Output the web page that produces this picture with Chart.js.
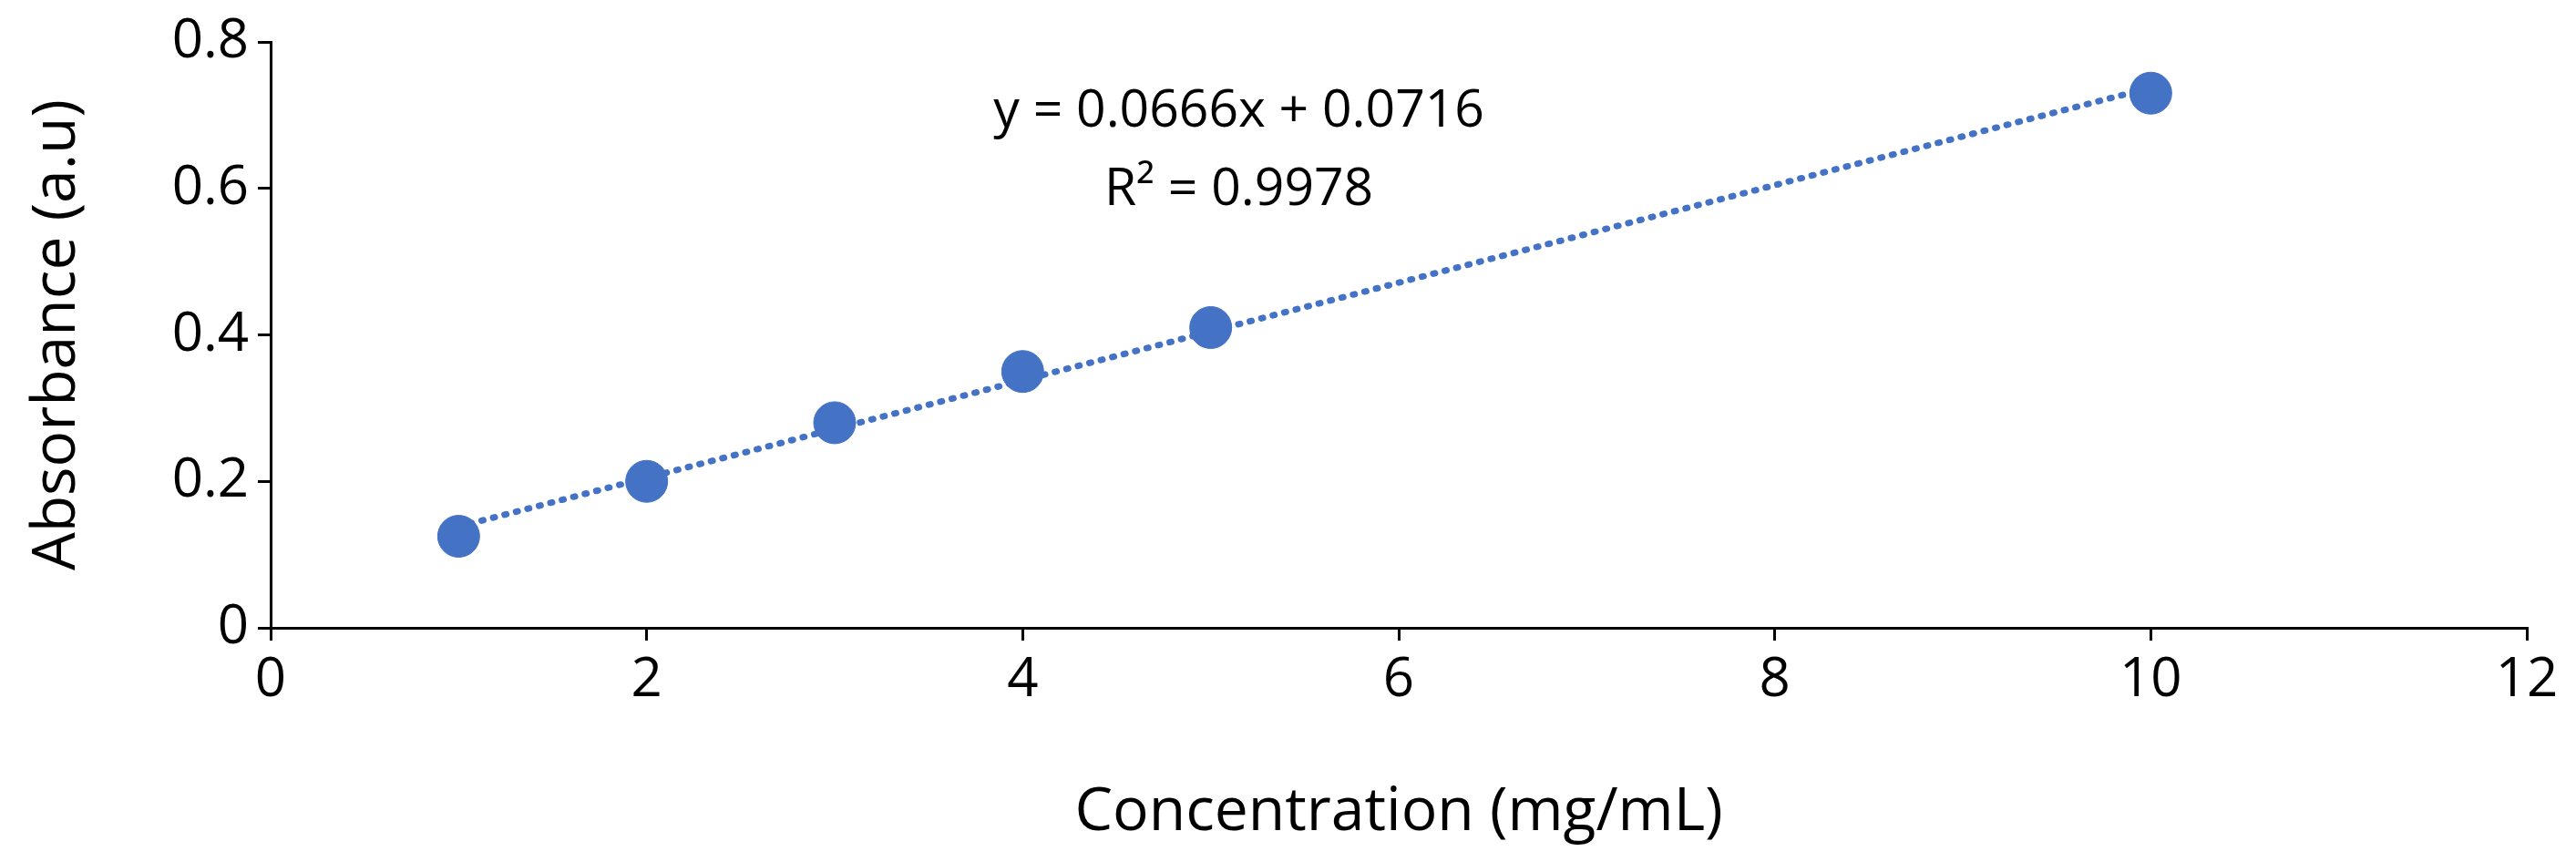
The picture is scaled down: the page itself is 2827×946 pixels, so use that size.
<!DOCTYPE html>
<html><head><meta charset="utf-8">
<script src="https://cdn.jsdelivr.net/npm/chart.js@4"></script>
<style>html,body{margin:0;padding:0;background:#fff}#w{width:2827px;height:946px}</style>
</head><body><div id="w"><canvas id="c"></canvas></div>
<script>
const concentrations = [1, 2, 3, 4, 5, 10];
const absorbance = [0.125, 0.2, 0.28, 0.35, 0.41, 0.73];
const slope = 0.0666, intercept = 0.0716;
const trendX = [1, 10];
const eqLines = ["y = 0.0666x + 0.0716", "R² = 0.9978"];
const font = "'Open Sans', 'Liberation Sans', sans-serif";
const blue = '#4472C4';
const textPlugin = {
  id: 'eq',
  afterDraw(ch) {
    const c = ch.ctx; c.save();
    c.fillStyle = '#000'; c.font = "57px " + font; c.textAlign = 'center'; c.textBaseline = 'middle';
    const x = ch.scales.x.getPixelForValue(5.15);
    c.fillText(eqLines[0], x, 123);
    c.fillText(eqLines[1], x, 209);
    c.restore();
  }
};
new Chart(document.getElementById('c'), {
  type: 'scatter',
  data: { datasets: [
    { data: trendX.map(x => ({x, y: slope * x + intercept})), showLine: true, pointRadius: 0,
      borderColor: blue, borderWidth: 7, borderDash: [2, 11], borderCapStyle: 'round' },
    { data: concentrations.map((x, i) => ({x, y: absorbance[i]})), pointRadius: 23,
      backgroundColor: blue, borderColor: blue, pointHoverRadius: 23 }
  ]},
  plugins: [textPlugin],
  options: {
    responsive: true, maintainAspectRatio: false, animation: false,
    layout: { padding: { top: 30, right: 54, left: 20, bottom: 10 } },
    plugins: { legend: { display: false }, tooltip: { enabled: false } },
    scales: {
      x: { type: 'linear', min: 0, max: 12,
        ticks: { stepSize: 2, color: '#000', font: { size: 60, family: font }, padding: 8 },
        grid: { drawOnChartArea: false, drawTicks: true, tickLength: 14, color: '#000', lineWidth: 3 },
        border: { color: '#000', width: 3 },
        title: { display: true, text: 'Concentration (mg/mL)', color: '#000', font: { size: 66, family: font } },
        afterFit(s) { s.height = 946 - 689 - 10; } },
      y: { min: 0, max: 0.8,
        ticks: { stepSize: 0.2, color: '#000', font: { size: 60, family: font }, padding: 10,
          callback: v => v === 0 ? '0' : String(+v.toFixed(1)) },
        grid: { drawOnChartArea: false, drawTicks: true, tickLength: 14, color: '#000', lineWidth: 3 },
        border: { color: '#000', width: 3 },
        title: { display: true, text: 'Absorbance (a.u)', color: '#000', font: { size: 66, family: font } },
        afterFit(s) { s.width = 297 - 20; } }
    }
  }
});
</script></body></html>
